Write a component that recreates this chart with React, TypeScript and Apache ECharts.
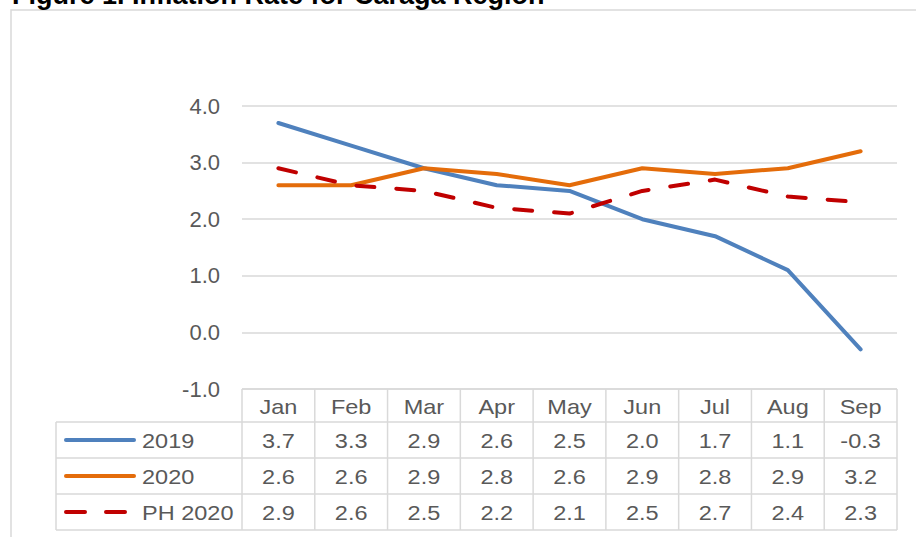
import React, { useEffect, useRef } from 'react';
import * as echarts from 'echarts';

const months = ['Jan', 'Feb', 'Mar', 'Apr', 'May', 'Jun', 'Jul', 'Aug', 'Sep'];
const s2019 = [3.7, 3.3, 2.9, 2.6, 2.5, 2.0, 1.7, 1.1, -0.3];
const s2020 = [2.6, 2.6, 2.9, 2.8, 2.6, 2.9, 2.8, 2.9, 3.2];
const sPH2020 = [2.9, 2.6, 2.5, 2.2, 2.1, 2.5, 2.7, 2.4, 2.3];
const seriesNames = ['2019', '2020', 'PH 2020'];
const yMin = -1;
const yMax = 4;
const yInterval = 1;
const titleText = 'Figure 1. Inflation Rate for Caraga Region';

const COLORS = ['#4F81BD', '#E46C0A', '#C00000'];
const TEXT = '#595959';
const BORDER = '#D9D9D9';
const FONT = 'Liberation Sans, Arial, sans-serif';
const FS = 21;
const SX = 1.12;
const DASH = [18, 22];

export default function App() {
  const ref = useRef<HTMLDivElement>(null);
  useEffect(() => {
    const chart = echarts.init(ref.current!, null, { renderer: 'svg' });
    const data = [s2019, s2020, sPH2020];
    chart.setOption({
      animation: false,
      grid: { left: 242, right: 19, top: 106, bottom: 148, containLabel: false },
      xAxis: {
        type: 'category',
        data: months,
        boundaryGap: true,
        axisLine: { show: false },
        axisTick: { show: false },
        axisLabel: { show: false },
        splitLine: { show: false },
      },
      yAxis: {
        type: 'value',
        min: yMin,
        max: yMax,
        interval: yInterval,
        axisLine: { show: false },
        axisTick: { show: false },
        axisLabel: {
          margin: 22,
          color: TEXT,
          fontSize: 22,
          fontFamily: FONT,
          formatter: (v: number) => v.toFixed(1),
        },
        splitLine: { lineStyle: { color: BORDER, width: 1.5 } },
      },
      series: data.map((d, i) => ({
        name: seriesNames[i],
        type: 'line',
        data: d,
        symbol: 'none',
        lineStyle: {
          color: COLORS[i],
          width: 4,
          cap: 'round',
          join: 'round',
          type: i === 2 ? DASH : 'solid',
        },
        z: 2 + i,
      })),
    });

    const cx = months.map((_, i) => chart.convertToPixel({ xAxisIndex: 0 }, i) as number);
    const step = cx.length > 1 ? cx[1] - cx[0] : 72;
    const tableTop = chart.convertToPixel({ yAxisIndex: 0 }, yMin) as number;
    const headerH = 33;
    const rowH = 36;
    const leftX = 56;
    const colLeft = cx[0] - step / 2;
    const colRight = cx[cx.length - 1] + step / 2;
    const rowTops = [tableTop + headerH, tableTop + headerH + rowH, tableTop + headerH + 2 * rowH];
    const tableBottom = tableTop + headerH + 3 * rowH;

    const g: any[] = [];
    g.push({
      type: 'rect',
      shape: { x: 11, y: 10, width: 1000, height: 1000 },
      style: { fill: 'none', stroke: BORDER, lineWidth: 1.5 },
      silent: true,
    });
    g.push({
      type: 'text',
      x: 12,
      y: -5.5,
      style: {
        text: titleText,
        fill: '#000',
        fontSize: 27,
        fontWeight: 'bold',
        fontFamily: FONT,
        align: 'left',
        verticalAlign: 'middle',
      },
    });
    const line = (x1: number, y1: number, x2: number, y2: number) => ({
      type: 'line',
      shape: { x1, y1, x2, y2 },
      style: { stroke: BORDER, lineWidth: 1.5 },
      silent: true,
    });
    g.push(line(colLeft, tableTop, colRight, tableTop));
    rowTops.forEach((y) => g.push(line(leftX, y, colRight, y)));
    g.push(line(leftX, tableBottom, colRight, tableBottom));
    g.push(line(leftX, rowTops[0], leftX, tableBottom));
    for (let i = 0; i <= months.length; i++) {
      const x = colLeft + i * step;
      g.push(line(x, tableTop, x, tableBottom));
    }
    const cellText = (text: string, x: number, y: number, align = 'center') => ({
      type: 'text',
      x,
      y,
      scaleX: SX,
      style: {
        text,
        fill: TEXT,
        fontSize: FS,
        fontFamily: FONT,
        align,
        verticalAlign: 'middle',
      },
    });
    months.forEach((m, i) => g.push(cellText(m, cx[i], tableTop + headerH / 2 + 1)));
    data.forEach((d, r) => {
      const yc = rowTops[r] + rowH / 2;
      d.forEach((v, i) => g.push(cellText(v.toFixed(1), cx[i], yc + 1)));
      g.push(cellText(seriesNames[r], 142, yc + 1, 'left'));
      g.push({
        type: 'line',
        shape: { x1: 66, y1: yc, x2: r === 2 ? 125 : 134, y2: yc },
        style: {
          stroke: COLORS[r],
          lineWidth: 4,
          lineCap: 'round',
          lineDash: r === 2 ? [19, 21] : null,
        },
        silent: true,
      });
    });
    chart.setOption({ graphic: g });
    return () => chart.dispose();
  }, []);
  return (
    <div
      ref={ref}
      style={{ position: 'fixed', left: 0, top: 0, width: 916, height: 537, background: '#fff' }}
    />
  );
}
